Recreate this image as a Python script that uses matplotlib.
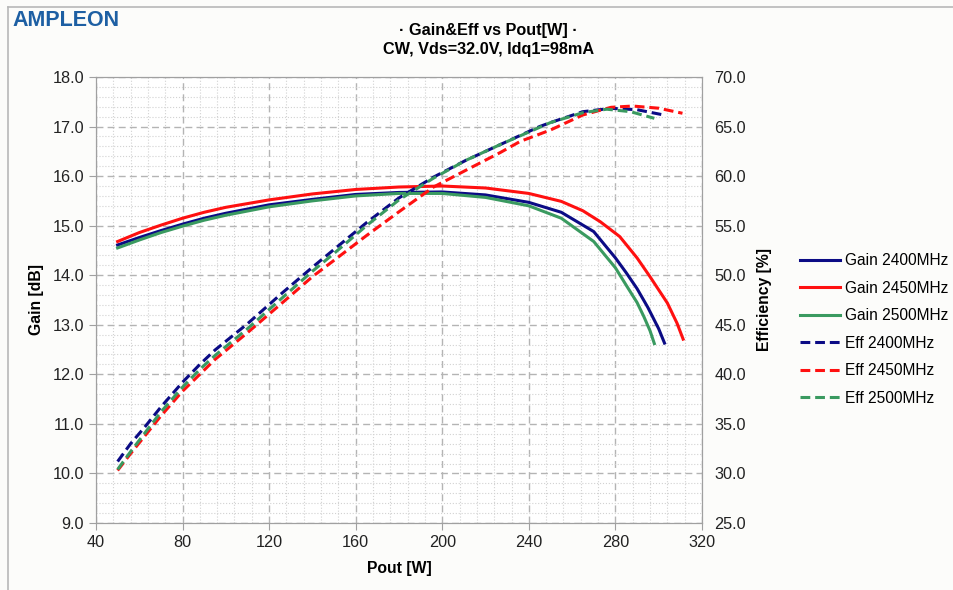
import matplotlib
matplotlib.use("Agg")
from matplotlib import pyplot as plt
from matplotlib.ticker import MultipleLocator, FormatStrFormatter
from matplotlib.lines import Line2D

plt.rcParams['font.family'] = ['Liberation Sans', 'DejaVu Sans']

# gain curves [dB] vs Pout [W]
p_gain_2400 = [50, 60, 70, 80, 90, 100, 120, 140, 160, 180, 200, 220, 240, 255, 270, 280, 285, 290, 295, 300, 302.7]
gain_2400 = [14.61, 14.76, 14.90, 15.03, 15.15, 15.25, 15.42, 15.53, 15.63, 15.67, 15.68, 15.62, 15.47, 15.27, 14.88, 14.35, 14.05, 13.73, 13.35, 12.92, 12.63]

p_gain_2450 = [50, 60, 70, 80, 90, 100, 120, 140, 160, 180, 200, 220, 240, 255, 265, 273, 282, 290, 296, 304, 308.5, 311.3]
gain_2450 = [14.68, 14.86, 15.01, 15.15, 15.27, 15.37, 15.52, 15.64, 15.73, 15.78, 15.80, 15.76, 15.65, 15.49, 15.30, 15.08, 14.78, 14.35, 13.97, 13.44, 13.03, 12.71]

p_gain_2500 = [50, 60, 70, 80, 90, 100, 120, 140, 160, 180, 200, 220, 240, 255, 270, 280, 285.4, 290, 293.1, 296, 298]
gain_2500 = [14.55, 14.71, 14.86, 14.99, 15.11, 15.21, 15.38, 15.50, 15.60, 15.65, 15.65, 15.57, 15.40, 15.15, 14.68, 14.15, 13.77, 13.45, 13.17, 12.88, 12.62]

# efficiency curves [%] vs Pout [W]
p_eff_2400 = [50, 56, 63, 70, 80, 88, 95, 110, 126, 140, 150, 165, 180, 196, 211, 227, 245, 250, 265, 278, 290, 302.3]
eff_2400 = [31.2, 33.0, 34.8, 36.7, 39.2, 41.0, 42.45, 45.1, 48.2, 50.8, 52.6, 55.3, 57.8, 59.9, 61.6, 63.2, 65.0, 65.4, 66.5, 66.84, 66.7, 66.17]

p_eff_2450 = [50, 56, 63, 70, 80, 88, 95, 110, 126, 140, 150, 165, 180, 196, 211, 227, 236, 250, 265, 278, 288, 300, 311]
eff_2450 = [30.3, 32.0, 33.9, 35.8, 38.3, 40.0, 41.5, 44.2, 47.2, 49.85, 51.5, 54.0, 56.4, 58.9, 60.6, 62.4, 63.5, 64.65, 66.17, 66.94, 67.07, 66.85, 66.34]

p_eff_2500 = [50, 56, 63, 70, 80, 88, 95, 110, 126, 140, 150, 165, 180, 196, 211, 227, 250, 265, 276, 287, 298]
eff_2500 = [30.4, 32.2, 34.2, 36.2, 38.7, 40.5, 41.9, 44.6, 47.7, 50.4, 52.2, 55.0, 57.6, 59.8, 61.6, 63.2, 65.4, 66.4, 66.75, 66.5, 65.83]

navy = '#0b0b85'
red = '#ff1010'
green = '#3a9a60'
dash = (0, (3.2, 1.6))

fig = plt.figure(figsize=(9.54, 5.9), dpi=100, facecolor='#fcfcfa')
ax = fig.add_axes([0.1006, 0.1136, 0.6352, 0.7559])
ax.set_facecolor('#ffffff')
ax2 = ax.twinx()

ax.plot(p_gain_2400, gain_2400, color=navy, lw=2.2)
ax.plot(p_gain_2450, gain_2450, color=red, lw=2.2)
ax.plot(p_gain_2500, gain_2500, color=green, lw=2.2)
ax2.plot(p_eff_2400, eff_2400, color=navy, lw=2.2, ls=dash)
ax2.plot(p_eff_2450, eff_2450, color=red, lw=2.2, ls=dash)
ax2.plot(p_eff_2500, eff_2500, color=green, lw=2.2, ls=dash)

ax.set_xlim(40, 320)
ax.set_ylim(9, 18)
ax2.set_ylim(25, 70)

ax.xaxis.set_major_locator(MultipleLocator(40))
ax.xaxis.set_minor_locator(MultipleLocator(8))
ax.yaxis.set_major_locator(MultipleLocator(1))
ax.yaxis.set_minor_locator(MultipleLocator(0.2))
ax.yaxis.set_major_formatter(FormatStrFormatter('%.1f'))
ax2.yaxis.set_major_locator(MultipleLocator(5))
ax2.yaxis.set_major_formatter(FormatStrFormatter('%.1f'))

ax.grid(which='major', color='#b4b4b4', ls=(0, (5, 3)), lw=1.0)
ax.grid(which='minor', color='#d2d2d2', ls=':', lw=0.8)
ax.set_axisbelow(True)

for a in (ax, ax2):
    for s in a.spines.values():
        s.set_color('#a0a0a0')
ax.tick_params(axis='both', which='major', labelsize=11.7, color='#a0a0a0', length=5, labelcolor='#222222')
ax.tick_params(axis='both', which='minor', length=0)
ax2.tick_params(axis='y', which='major', labelsize=11.7, color='#a0a0a0', length=0, pad=9, labelcolor='#222222')

ax.set_xlabel('Pout [W]', fontsize=11.3, fontweight='bold', labelpad=8)
ax.set_ylabel('Gain [dB]', fontsize=11.3, fontweight='bold', labelpad=6)
ax2.set_ylabel('Efficiency [%]', fontsize=11.3, fontweight='bold', labelpad=8)

fig.text(0.512, 0.949, '\u00b7 Gain&Eff vs Pout[W] \u00b7', ha='center', va='center', fontsize=11.7, fontweight='bold')
fig.text(0.512, 0.916, 'CW, Vds=32.0V, Idq1=98mA', ha='center', va='center', fontsize=11.7, fontweight='bold')
fig.text(0.013, 0.965, 'AMPLEON', ha='left', va='center', fontsize=15.5, color='#1d5fa3', fontweight='bold')

# chart border (left and top edges visible)
fig.add_artist(Line2D([8 / 954, 8 / 954], [0, 1 - 7 / 590], color='#b8b8b8', lw=1.2))
fig.add_artist(Line2D([8 / 954, 1], [1 - 7 / 590, 1 - 7 / 590], color='#b8b8b8', lw=1.2))

handles = [
    Line2D([], [], color=navy, lw=2.2),
    Line2D([], [], color=red, lw=2.2),
    Line2D([], [], color=green, lw=2.2),
    Line2D([], [], color=navy, lw=2.2, ls=dash),
    Line2D([], [], color=red, lw=2.2, ls=dash),
    Line2D([], [], color=green, lw=2.2, ls=dash),
]
labels = ['Gain 2400MHz', 'Gain 2450MHz', 'Gain 2500MHz', 'Eff 2400MHz', 'Eff 2450MHz', 'Eff 2500MHz']
fig.legend(handles, labels, loc='upper left', bbox_to_anchor=(0.832, 0.581), frameon=False,
           fontsize=11.2, handlelength=2.6, handletextpad=0.3, labelspacing=0.8, borderaxespad=0)

plt.savefig('out.png', dpi=100, facecolor=fig.get_facecolor())
